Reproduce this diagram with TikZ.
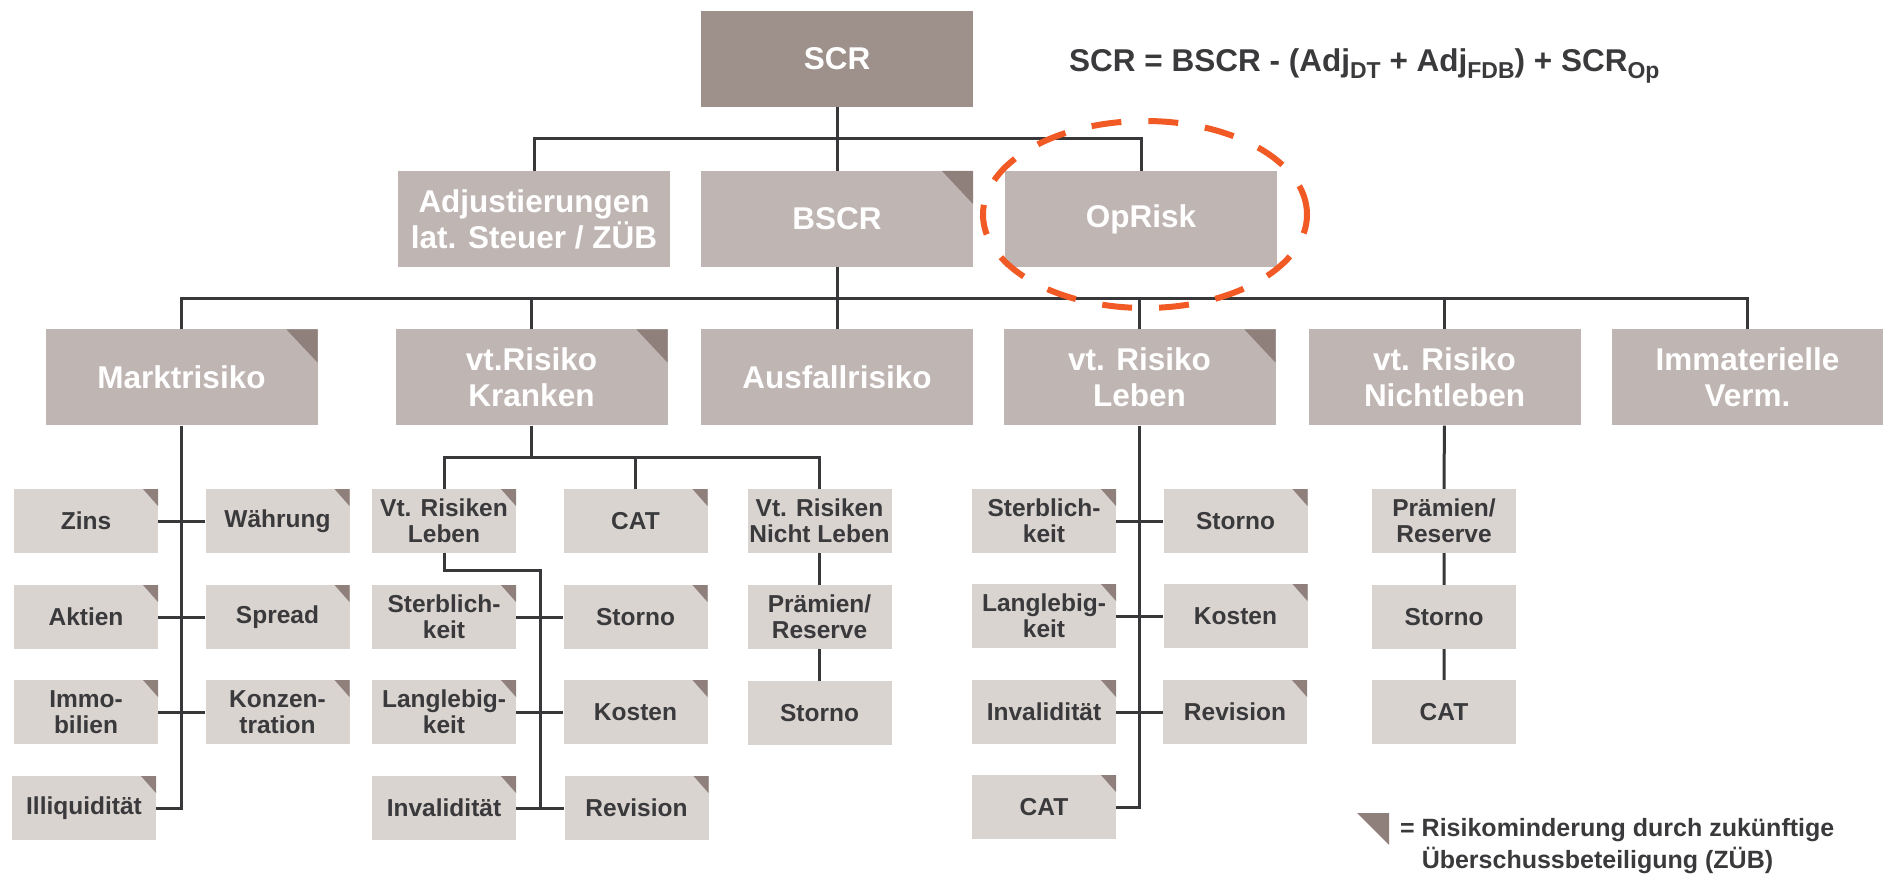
\documentclass[tikz,border=0pt]{standalone}
\usepackage{fontspec}
\setmainfont{Liberation Sans}

\definecolor{scrfill}{HTML}{9E908B}
\definecolor{midfill}{HTML}{BFB5B2}
\definecolor{smallfill}{HTML}{DAD4D1}
\definecolor{trifill}{HTML}{8F807C}
\definecolor{linecol}{HTML}{38383A}
\definecolor{darktext}{HTML}{3A3A3C}
\definecolor{oporange}{HTML}{F15A24}

% lowered index used in the formula
\newcommand\lowidx[1]{\raisebox{-7pt}{\fontsize{23}{23}\selectfont #1}}

\tikzset{
  box/.style={rectangle, inner sep=0pt, minimum width=272pt, minimum height=96pt,
    align=center, text=white, font=\fontsize{31.5}{36}\selectfont\bfseries},
  topbox/.style={box, fill=scrfill},
  midbox/.style={box, fill=midfill},
  small/.style={rectangle, inner sep=0pt, minimum width=144pt, minimum height=64pt,
    align=center, fill=smallfill, text=darktext,
    font=\fontsize{24.5}{26}\selectfont\bfseries},
  zbig/.style={path picture={\fill[trifill]
    ([xshift=-31pt]path picture bounding box.north east) --
    (path picture bounding box.north east) --
    ([yshift=-33pt]path picture bounding box.north east) -- cycle;}},
  zsmall/.style={path picture={\fill[trifill]
    ([xshift=-15pt]path picture bounding box.north east) --
    (path picture bounding box.north east) --
    ([yshift=-17pt]path picture bounding box.north east) -- cycle;}},
  conn/.style={draw=linecol, line width=3pt},
  opdash/.style={draw=oporange, line width=6pt, dash pattern=on 30pt off 27pt},
}

\begin{document}
\begin{tikzpicture}[x=1pt,y=-1pt]
\useasboundingbox (0,0) rectangle (1883,874);

% ---------- top level ----------
\node[topbox] (scr) at (837,59) {SCR};
\node[anchor=base west, text=darktext, font=\fontsize{31.5}{36}\selectfont\bfseries, inner sep=0pt]
  (formel) at (1069,72)
  {SCR = BSCR - (Adj\lowidx{DT} + Adj\lowidx{FDB}) + SCR\lowidx{Op}};

% ---------- second level ----------
\node[midbox] (adj) at (534,219) {Adjustierungen\\lat. Steuer / ZÜB};
\node[midbox, zbig] (bscr) at (837,219) {BSCR};
\node[midbox] (opr) at (1141,219) {OpRisk};

% ---------- BSCR modules ----------
\node[midbox, zbig] (markt) at (181.5,377.5) {Marktrisiko};
\node[midbox, zbig] (kranken) at (531.5,377.5) {vt.Risiko\\Kranken};
\node[midbox] (ausfall) at (837,377.5) {Ausfallrisiko};
\node[midbox, zbig] (leben) at (1139.5,377.5) {vt. Risiko\\Leben};
\node[midbox] (nleben) at (1444.5,377.5) {vt. Risiko\\Nichtleben};
\node[midbox] (immat) at (1747.5,377.5) {Immaterielle\\Verm.};

% ---------- Marktrisiko sub-modules ----------
\node[small, zsmall] (zins) at (86,521) {Zins};
\node[small, zsmall] (waehr) at (277.5,521) {Währung};
\node[small, zsmall] (aktien) at (86,617) {Aktien};
\node[small, zsmall] (spread) at (277.5,617) {Spread};
\node[small, zsmall] (immo) at (86,712) {Immo-\\bilien};
\node[small, zsmall] (konz) at (277.5,712) {Konzen-\\tration};
\node[small, zsmall] (illiq) at (84,808) {Illiquidität};

% ---------- Kranken sub-modules ----------
\node[small, zsmall] (krl) at (444,521) {Vt. Risiken\\Leben};
\node[small, zsmall] (krcat) at (635.5,521) {CAT};
\node[small] (krnl) at (819.5,521) {Vt. Risiken\\Nicht Leben};
\node[small, zsmall] (krsterb) at (444,617) {Sterblich-\\keit};
\node[small, zsmall] (krstorno) at (635.5,617) {Storno};
\node[small] (krpraem) at (819.5,617) {Prämien/\\Reserve};
\node[small, zsmall] (krlang) at (444,712) {Langlebig-\\keit};
\node[small, zsmall] (krkost) at (635.5,712) {Kosten};
\node[small] (krnlstorno) at (819.5,713) {Storno};
\node[small, zsmall] (krinv) at (444,808) {Invalidität};
\node[small, zsmall] (krrev) at (636.5,808) {Revision};

% ---------- Leben sub-modules ----------
\node[small, zsmall] (lsterb) at (1044,521) {Sterblich-\\keit};
\node[small, zsmall] (lstorno) at (1235.5,521) {Storno};
\node[small, zsmall] (llang) at (1044,616) {Langlebig-\\keit};
\node[small, zsmall] (lkost) at (1235.5,616) {Kosten};
\node[small, zsmall] (linv) at (1044,712) {Invalidität};
\node[small, zsmall] (lrev) at (1235,712) {Revision};
\node[small, zsmall] (lcat) at (1044,807) {CAT};

% ---------- Nichtleben sub-modules ----------
\node[small] (npraem) at (1444,521) {Prämien/\\Reserve};
\node[small] (nstorno) at (1444,617) {Storno};
\node[small] (ncat) at (1444,712) {CAT};

% ---------- connectors ----------
\coordinate (bus1) at (837,139);
\draw[conn] (scr.south) -- (bus1);
\draw[conn] (adj.north) |- (bus1) -| (opr.north);
\draw[conn] (bus1) -- (bscr.north);

\coordinate (bus2) at (837,299);
\draw[conn] (bscr.south) -- (ausfall.north);
\draw[conn] (markt.north) |- (bus2) -| (immat.north);
\draw[conn] (kranken.north) -- (kranken.north |- bus2);
\draw[conn] (leben.north) -- (leben.north |- bus2);
\draw[conn] (nleben.north) -- (nleben.north |- bus2);

% Marktrisiko spine
\draw[conn] (markt.south) -- (markt.south |- illiq.east) -- (illiq.east);
\draw[conn] (zins.east) -- (waehr.west);
\draw[conn] (aktien.east) -- (spread.west);
\draw[conn] (immo.east) -- (konz.west);

% Kranken tree
\coordinate (bus3) at (531.5,458);
\draw[conn] (kranken.south) -- (bus3);
\draw[conn] (krl.north) |- (bus3) -| (krnl.north);
\draw[conn] (krcat.north) -- (krcat.north |- bus3);
\coordinate (bus4) at (540,570);
\draw[conn] (krl.south) |- (bus4) -- (bus4 |- krinv.east);
\draw[conn] (krsterb.east) -- (krstorno.west);
\draw[conn] (krlang.east) -- (krkost.west);
\draw[conn] (krinv.east) -- (krrev.west);
\draw[conn] (krnl) -- (krpraem) -- (krnlstorno);

% Leben spine
\draw[conn] (leben.south) -- (leben.south |- lcat.east) -- (lcat.east);
\draw[conn] (lsterb.east) -- (lstorno.west);
\draw[conn] (llang.east) -- (lkost.west);
\draw[conn] (linv.east) -- (lrev.west);

% Nichtleben chain
\draw[conn] (nleben) -- (npraem) -- (nstorno) -- (ncat);

% ---------- highlight around OpRisk ----------
\coordinate (opc) at (1145,214.5);
\draw[opdash] (opc) ellipse [x radius=162pt, y radius=93.5pt];

% ---------- legend ----------
\coordinate (lg) at (1357,813);
\fill[trifill] (lg) -- ++(32pt,0pt) -- ++(0pt,-32pt) -- cycle;
\node[anchor=base west, inner sep=0pt, align=left, text=darktext,
  font=\fontsize{25}{32}\selectfont\bfseries] (legend) at (1400,868)
  {= Risikominderung durch zukünftige\\\phantom{= }Überschussbeteiligung (ZÜB)};
\end{tikzpicture}
\end{document}
